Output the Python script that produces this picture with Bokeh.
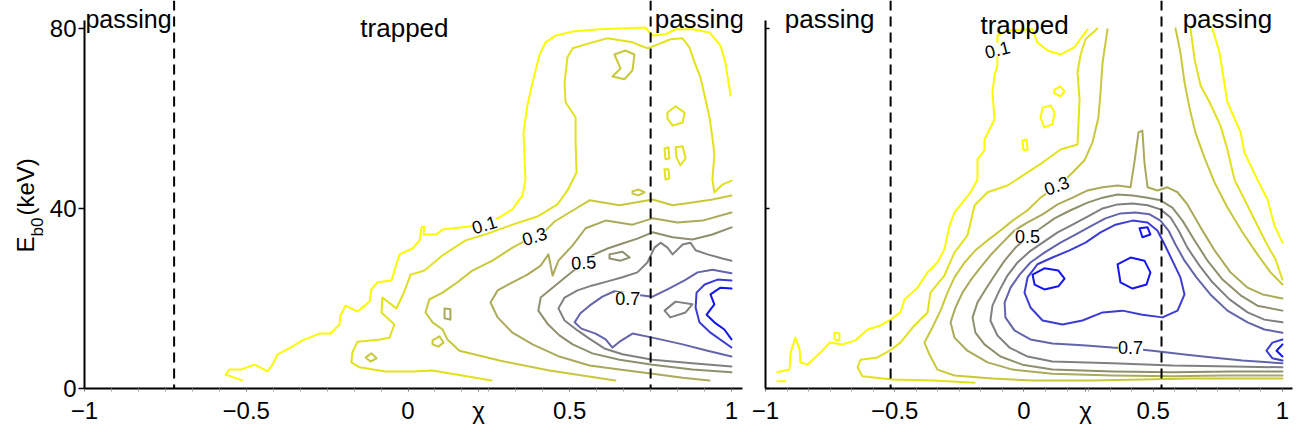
from bokeh.plotting import figure
from bokeh.models import Span, Label, FixedTicker, CustomJSTickFormatter, Range1d
from bokeh.layouts import row
from bokeh.embed import file_html
from bokeh.resources import INLINE

# ---------------- common ----------------
LEVELS = [0.1, 0.2, 0.3, 0.4, 0.5, 0.6, 0.7, 0.8, 0.9]
LEVEL_COLORS = ["#fafa00", "#e1e11e", "#c8c83c", "#aaaa5a", "#8f8f6e",
                "#808080", "#6464aa", "#3c3cd2", "#1414f0"]
X_TICKS = [-1, -0.5, 0, 0.5, 1]
Y_TICKS = [0, 40, 80]
Y_TOP = 86.2
Y_AXIS_END = 81.8
FONT = "Liberation Sans"
X_TITLE = "\u03c7"
Y_TITLE_PARTS = ["E", "b0", "(keV)"]

# ---------------- left panel ----------------
left_boundaries = [-0.723, 0.750]
left_x_title_pos = 0.218

left_01_chi = [-0.512, -0.564, -0.552, -0.518, -0.474, -0.434, -0.419, -0.403, -0.363, -0.326, -0.274, -0.240, -0.212,
               -0.209, -0.193, -0.156, -0.119, -0.113, -0.094, -0.051, -0.039, -0.026, 0.014, 0.036, 0.042, 0.051,
               0.048, 0.088, 0.107, 0.190, 0.236, 0.283, 0.323, 0.354, 0.363, 0.357, 0.369, 0.385, 0.406, 0.425,
               0.456, 0.509, 0.592, 0.734, 0.756, 0.796, 0.827, 0.879, 0.932, 0.966, 0.981, 0.997]
left_01_E = [1.8, 3.1, 4.2, 4.2, 5.3, 3.8, 5.3, 7.6, 9.1, 10.7, 12.2, 12.2, 14.2, 16.2, 18.4, 17.1, 19.3, 22.0, 23.6,
             24.0, 26.9, 29.8, 31.1, 32.9, 35.8, 36.0, 34.2, 34.2, 35.3, 36.0, 36.9, 38.0, 39.8, 42.9, 46.4, 56.9,
             62.9, 68.0, 74.0, 76.9, 78.4, 79.3, 79.8, 80.2, 78.4, 78.7, 79.8, 79.8, 79.1, 76.2, 72.4, 65.1]

left_02_chi = [0.258, 0.168, 0.076, 0.014, -0.070, -0.150, -0.175, -0.172, -0.156, -0.085, -0.057, -0.042, -0.082,
               -0.079, -0.036, -0.014, 0.008, 0.051, 0.107, 0.178, 0.246, 0.323, 0.400, 0.462, 0.493, 0.521, 0.518,
               0.518, 0.487, 0.484, 0.493, 0.509, 0.570, 0.617, 0.694, 0.740, 0.771, 0.811, 0.849, 0.870, 0.886,
               0.904, 0.917, 0.932, 0.941, 0.947, 0.941, 0.947, 0.972, 1.000]
left_02_E = [1.8, 2.9, 4.0, 3.8, 3.8, 4.7, 5.8, 8.0, 10.4, 10.9, 11.3, 14.2, 16.9, 20.2, 17.8, 21.1, 25.3, 26.2, 29.6,
             32.9, 34.4, 36.4, 38.2, 40.9, 44.0, 48.0, 54.7, 60.2, 63.6, 68.0, 73.6, 75.6, 76.9, 77.8, 76.9, 75.6,
             76.4, 77.6, 77.8, 75.8, 72.4, 69.1, 65.1, 60.2, 55.8, 52.0, 46.4, 43.6, 45.3, 46.2]

left_03_chi = [0.641, 0.539, 0.437, 0.283, 0.159, 0.122, 0.107, 0.076, 0.054, 0.066, 0.107, 0.153, 0.199, 0.261,
               0.323, 0.369, 0.416, 0.453, 0.499, 0.561, 0.654, 0.703, 0.756, 0.818, 0.879, 0.941, 1.000]
left_03_E = [1.8, 2.9, 4.0, 6.2, 8.4, 10.9, 13.1, 14.7, 16.9, 19.8, 21.3, 23.6, 26.2, 28.4, 31.3, 33.1, 34.4, 37.1,
             39.1, 41.8, 40.7, 41.3, 42.0, 40.7, 41.3, 42.0, 42.9]

left_04_chi = [0.932, 0.849, 0.756, 0.654, 0.561, 0.468, 0.385, 0.323, 0.277, 0.255, 0.277, 0.323, 0.369, 0.410,
               0.434, 0.447, 0.465, 0.509, 0.549, 0.611, 0.694, 0.756, 0.833, 0.910, 1.000]
left_04_E = [1.8, 2.4, 3.3, 4.2, 5.1, 7.1, 9.8, 12.4, 15.8, 19.1, 21.8, 23.6, 25.3, 27.3, 29.8, 25.1, 28.4, 31.8,
             35.6, 37.3, 36.4, 37.8, 36.9, 37.3, 39.1]

left_05_chi = [1.000, 0.879, 0.756, 0.654, 0.570, 0.509, 0.468, 0.431, 0.403, 0.410, 0.447, 0.493, 0.524, 0.543,
               0.570, 0.617, 0.663, 0.709, 0.756, 0.818, 0.879, 0.941, 1.000]
left_05_E = [3.6, 4.2, 5.3, 6.4, 7.8, 9.8, 11.8, 14.4, 17.3, 20.2, 22.4, 25.1, 26.9, 28.0, 29.6, 31.1, 32.2, 33.3,
             34.7, 33.6, 33.1, 34.2, 35.8]

left_06_chi = [1.000, 0.879, 0.756, 0.663, 0.607, 0.564, 0.524, 0.484, 0.465, 0.484, 0.524, 0.570, 0.617, 0.663,
               0.709, 0.740, 0.762, 0.781, 0.802, 0.818, 0.849, 0.873, 0.889, 0.926, 0.972, 1.000]
left_06_E = [4.9, 5.6, 6.4, 7.6, 8.9, 10.9, 12.9, 15.1, 17.8, 20.2, 21.8, 22.9, 23.8, 24.7, 25.8, 28.0, 31.3, 32.4,
             31.3, 29.8, 32.0, 32.4, 30.7, 29.8, 28.9, 28.4]

left_07_chi = [1.000, 0.941, 0.895, 0.855, 0.802, 0.756, 0.719, 0.679, 0.638, 0.601, 0.561, 0.533, 0.515, 0.536,
               0.580, 0.611, 0.632, 0.654, 0.694, 0.756, 0.849, 0.926, 1.000]
left_07_E = [25.6, 26.4, 25.8, 24.0, 22.0, 20.4, 20.7, 21.1, 21.6, 20.4, 18.4, 16.7, 14.7, 13.3, 12.2, 10.9, 9.1,
             10.4, 12.2, 11.3, 9.8, 8.4, 7.1]

left_08_chi = [1.000, 0.957, 0.917, 0.892, 0.889, 0.901, 0.935, 1.000]
left_08_E = [24.0, 24.2, 23.1, 21.3, 18.0, 14.7, 12.4, 9.1]

left_09_chi = [1.000, 0.966, 0.935, 0.947, 0.923, 0.947, 0.978, 1.000]
left_09_E = [22.2, 22.4, 20.9, 18.7, 16.4, 14.7, 13.1, 10.9]

# small closed islands (left)
left_isl_tower_chi = [0.638, 0.672, 0.700, 0.694, 0.669, 0.632, 0.657, 0.638]
left_isl_tower_E = [74.2, 75.1, 74.2, 70.7, 68.7, 69.3, 71.1, 74.2]
left_hole_a_chi = [0.802, 0.827, 0.855, 0.849, 0.818, 0.802, 0.802]
left_hole_a_E = [61.3, 62.7, 61.3, 59.1, 58.4, 60.0, 61.3]
left_hole_b_chi = [0.827, 0.849, 0.858, 0.842, 0.830, 0.827]
left_hole_b_E = [53.6, 53.8, 51.1, 49.6, 51.3, 53.6]
left_hole_c_chi = [0.793, 0.805, 0.808, 0.796, 0.793]
left_hole_c_E = [53.3, 53.6, 51.1, 50.9, 53.3]
left_hole_d_chi = [0.793, 0.805, 0.808, 0.796, 0.793]
left_hole_d_E = [48.7, 48.7, 46.7, 46.4, 48.7]
left_isl_e_chi = [0.694, 0.713, 0.731, 0.713, 0.694, 0.694]
left_isl_e_E = [43.8, 44.2, 43.6, 42.9, 43.3, 43.8]
left_isl_f_chi = [0.113, 0.131, 0.131, 0.113, 0.113]
left_isl_f_E = [17.8, 17.6, 15.3, 15.6, 17.8]
left_isl_g_chi = [-0.131, -0.113, -0.097, -0.116, -0.131]
left_isl_g_E = [6.9, 7.8, 6.7, 6.0, 6.9]
left_isl_h_chi = [0.076, 0.097, 0.110, 0.094, 0.076, 0.076]
left_isl_h_E = [10.7, 11.6, 10.2, 9.3, 9.8, 10.7]
left_isl_i_chi = [0.623, 0.663, 0.685, 0.657, 0.623, 0.623]
left_isl_i_E = [29.8, 30.4, 29.1, 28.4, 28.9, 29.8]
left_isl_j_chi = [0.793, 0.827, 0.879, 0.858, 0.811, 0.793]
left_isl_j_E = [17.3, 19.3, 18.7, 16.9, 15.8, 17.3]

left_clabel_text = ["0.1", "0.3", "0.5", "0.7"]
left_clabel_chi = [0.236, 0.391, 0.543, 0.679]
left_clabel_E = [36.4, 33.8, 28.0, 20.0]
left_clabel_angle = [0.30, 0.30, 0.05, 0.0]

left_region_text = ["passing", "trapped", "passing"]
left_region_chi = [-0.997, -0.011, 0.901]
left_region_E = [82.2, 80.0, 82.2]
left_region_align = ["left", "center", "center"]
left_region_size = ["25px", "26px", "26px"]

# ---------------- right panel ----------------
right_boundaries = [-0.516, 0.532]
right_x_title_pos = 0.238

right_01a_chi = [-0.954, -0.907, -0.903, -0.884, -0.868, -0.865, -0.838, -0.780, -0.752, -0.702, -0.652, -0.605,
                 -0.555, -0.516, -0.478, -0.462, -0.412, -0.373, -0.335, -0.308, -0.288, -0.269, -0.207, -0.180,
                 -0.180, -0.153, -0.153, -0.114, -0.122, -0.114, -0.103, -0.103, -0.064, 0.033, 0.052, 0.091, 0.141,
                 0.195, 0.246]
right_01a_E = [3.6, 4.2, 8.0, 11.3, 8.7, 5.8, 5.3, 8.4, 10.2, 9.8, 10.7, 13.1, 14.0, 15.3, 16.9, 19.8, 22.4, 25.8,
               28.0, 30.9, 36.2, 39.1, 43.6, 46.4, 50.9, 52.9, 55.3, 59.8, 65.8, 69.6, 71.8, 78.4, 79.6, 79.8, 76.9,
               75.1, 74.2, 75.8, 79.8]
right_01b_chi = [0.729, 0.756, 0.787, 0.838, 0.853, 0.903, 0.942, 0.969, 1.000]
right_01b_E = [80.0, 74.7, 63.6, 56.9, 52.4, 46.4, 42.0, 36.2, 32.4]
right_01c_chi = [-0.954, -0.923]
right_01c_E = [1.6, 1.6]

right_02a_chi = [-0.191, -0.346, -0.509, -0.625, -0.644, -0.632, -0.567, -0.520, -0.478, -0.424, -0.373, -0.362,
                 -0.308, -0.269, -0.219, -0.191, -0.141, -0.064, 0.014, 0.072, 0.141, 0.207, 0.215, 0.207, 0.219,
                 0.238, 0.284]
right_02a_E = [1.3, 1.8, 2.0, 2.7, 4.7, 6.4, 6.9, 8.4, 10.2, 14.0, 16.9, 21.3, 25.1, 30.2, 34.0, 40.7, 43.6, 45.1,
               48.0, 50.2, 53.1, 54.2, 64.2, 70.2, 74.2, 77.6, 80.0]
right_02b_chi = [0.644, 0.660, 0.683, 0.718, 0.760, 0.787, 0.814, 0.853, 0.903, 0.942, 0.973, 1.000]
right_02b_E = [80.0, 73.1, 67.3, 63.6, 58.4, 53.1, 46.4, 42.0, 36.2, 31.8, 28.7, 24.2]

right_03a_chi = [1.000, 0.652, 0.458, 0.265, 0.033, -0.122, -0.269, -0.335, -0.366, -0.385, -0.354, -0.323, -0.296,
                 -0.269, -0.230, -0.188, -0.141, -0.091, -0.044, 0.014, 0.064, 0.103, 0.149, 0.188, 0.234, 0.265,
                 0.288, 0.296, 0.304, 0.323]
right_03a_E = [2.2, 2.2, 2.0, 1.8, 1.8, 2.2, 2.9, 4.2, 7.6, 10.2, 13.6, 17.3, 21.3, 24.7, 28.0, 30.7, 32.9, 35.1,
               37.3, 39.6, 42.4, 44.0, 45.8, 48.0, 50.7, 54.7, 60.2, 65.8, 72.4, 79.8]
right_03b_chi = [0.586, 0.605, 0.621, 0.640, 0.663, 0.698, 0.737, 0.787, 0.845, 0.903, 0.954, 1.000]
right_03b_E = [80.0, 74.7, 68.0, 62.4, 56.9, 51.3, 45.8, 40.2, 34.7, 29.8, 25.8, 23.1]

right_04_chi = [1.000, 0.768, 0.574, 0.342, 0.110, -0.044, -0.141, -0.219, -0.269, -0.284, -0.265, -0.238, -0.207,
                -0.168, -0.130, -0.083, -0.037, 0.014, 0.072, 0.130, 0.188, 0.246, 0.304, 0.362, 0.412, 0.427, 0.443,
                0.458, 0.466, 0.478, 0.516, 0.555, 0.594, 0.632, 0.683, 0.737, 0.799, 0.865, 0.923, 1.000]
right_04_E = [2.9, 2.9, 2.7, 2.9, 3.3, 4.2, 5.8, 8.4, 11.3, 14.7, 18.0, 21.3, 24.0, 26.9, 29.6, 32.4, 35.1, 36.9,
              38.7, 40.9, 42.4, 44.0, 44.7, 45.1, 44.7, 50.2, 56.9, 57.3, 50.2, 44.7, 44.0, 44.7, 43.6, 40.9, 35.8,
              30.7, 25.8, 22.4, 20.9, 20.0]

right_05_chi = [1.000, 0.807, 0.574, 0.342, 0.110, -0.006, -0.091, -0.153, -0.188, -0.199, -0.180, -0.149, -0.114,
                -0.075, -0.033, 0.014, 0.064, 0.118, 0.180, 0.246, 0.304, 0.362, 0.420, 0.478, 0.528, 0.574, 0.613,
                0.660, 0.710, 0.768, 0.838, 0.903, 1.000]
right_05_E = [3.8, 3.8, 3.6, 3.8, 4.2, 5.3, 7.1, 9.8, 12.4, 15.8, 19.1, 22.0, 25.1, 28.4, 31.3, 33.6, 35.6, 37.8,
              39.6, 41.3, 42.4, 43.1, 42.9, 42.4, 41.8, 40.2, 37.3, 32.9, 28.4, 24.2, 20.7, 18.4, 17.3]

right_06_chi = [1.000, 0.807, 0.574, 0.342, 0.110, 0.014, -0.056, -0.103, -0.130, -0.122, -0.095, -0.064, -0.025,
                0.021, 0.072, 0.130, 0.188, 0.246, 0.304, 0.362, 0.420, 0.478, 0.528, 0.567, 0.598, 0.632, 0.679,
                0.729, 0.795, 0.865, 0.930, 1.000]
right_06_E = [4.7, 4.9, 5.1, 5.6, 6.0, 7.1, 9.1, 11.8, 15.1, 18.4, 21.8, 25.1, 28.0, 30.4, 32.4, 34.7, 36.4, 38.2,
              40.0, 40.9, 41.1, 40.7, 39.8, 38.0, 35.1, 31.3, 27.3, 23.6, 19.8, 16.9, 15.3, 14.7]

right_07_chi = [1.000, 0.845, 0.729, 0.613, 0.497, 0.412, 0.342, 0.226, 0.110, 0.025, -0.037, -0.072, -0.075, -0.052,
                -0.017, 0.025, 0.079, 0.141, 0.199, 0.257, 0.315, 0.373, 0.431, 0.486, 0.528, 0.559, 0.586, 0.621,
                0.667, 0.721, 0.787, 0.865, 0.930, 1.000]
right_07_E = [5.6, 6.2, 6.9, 7.6, 8.4, 8.9, 9.1, 9.6, 10.0, 10.9, 12.9, 15.8, 19.1, 22.4, 25.3, 28.0, 30.2, 32.4,
              34.2, 36.0, 37.8, 38.9, 39.1, 38.7, 37.3, 35.1, 32.0, 28.4, 24.7, 20.9, 17.3, 14.7, 13.1, 12.4]

right_08a_chi = [0.014, 0.052, 0.110, 0.176, 0.238, 0.296, 0.354, 0.420, 0.478, 0.516, 0.544, 0.574, 0.605, 0.621,
                 0.594, 0.536, 0.458, 0.381, 0.304, 0.226, 0.149, 0.072, 0.025, 0.002, 0.014]
right_08a_E = [24.7, 27.6, 29.1, 30.7, 32.4, 34.7, 36.4, 37.3, 36.9, 35.1, 32.0, 28.4, 24.7, 20.9, 17.3, 15.8, 16.4,
               17.3, 16.9, 15.1, 14.2, 15.1, 18.0, 21.3, 24.7]
right_08b_chi = [1.000, 0.961, 0.938, 0.961, 1.000]
right_08b_E = [10.9, 10.2, 8.4, 6.7, 6.2]

right_09a_chi = [0.033, 0.079, 0.133, 0.157, 0.133, 0.079, 0.041, 0.033]
right_09a_E = [25.3, 26.7, 26.2, 24.4, 22.7, 22.0, 23.1, 25.3]
right_09b_chi = [0.362, 0.412, 0.466, 0.489, 0.474, 0.420, 0.373, 0.362]
right_09b_E = [27.6, 29.1, 28.4, 25.8, 23.1, 22.2, 23.6, 27.6]
right_09c_chi = [0.447, 0.478, 0.489, 0.458, 0.447]
right_09c_E = [35.6, 35.8, 34.2, 33.6, 35.6]
right_09d_chi = [1.000, 0.977, 1.000]
right_09d_E = [9.8, 8.4, 7.1]

# small yellow islands (right)
right_hole_a_chi = [0.118, 0.141, 0.157, 0.141, 0.118, 0.118]
right_hole_a_E = [66.4, 67.1, 66.0, 64.9, 65.6, 66.4]
right_hole_b_chi = [0.072, 0.103, 0.118, 0.110, 0.079, 0.064, 0.072]
right_hole_b_E = [62.4, 62.9, 61.3, 58.7, 58.0, 60.2, 62.4]
right_hole_c_chi = [-0.006, 0.010, 0.014, -0.002, -0.006]
right_hole_c_E = [55.1, 55.3, 53.1, 52.9, 55.1]
right_hole_d_chi = [-0.733, -0.714, -0.714, -0.733, -0.733]
right_hole_d_E = [12.4, 12.2, 10.7, 10.9, 12.4]

right_clabel_text = ["0.1", "0.3", "0.5", "0.7"]
right_clabel_chi = [-0.103, 0.126, 0.014, 0.412]
right_clabel_E = [75.3, 45.1, 33.8, 9.1]
right_clabel_angle = [0.25, 0.35, 0.0, 0.0]

right_region_text = ["passing", "trapped", "passing"]
right_region_chi = [-0.752, 0.002, 0.787]
right_region_E = [82.2, 80.7, 82.2]
right_region_align = ["center", "center", "center"]
right_region_size = ["26px", "26px", "26px"]

# ---------------- assemble ----------------
LEFT_LINES = {
    0.1: [(left_01_chi, left_01_E)],
    0.2: [(left_02_chi, left_02_E), (left_hole_a_chi, left_hole_a_E), (left_hole_b_chi, left_hole_b_E),
          (left_hole_c_chi, left_hole_c_E), (left_hole_d_chi, left_hole_d_E)],
    0.3: [(left_03_chi, left_03_E), (left_isl_tower_chi, left_isl_tower_E), (left_isl_e_chi, left_isl_e_E),
          (left_isl_g_chi, left_isl_g_E), (left_isl_h_chi, left_isl_h_E)],
    0.4: [(left_04_chi, left_04_E), (left_isl_f_chi, left_isl_f_E)],
    0.5: [(left_05_chi, left_05_E), (left_isl_i_chi, left_isl_i_E)],
    0.6: [(left_06_chi, left_06_E), (left_isl_j_chi, left_isl_j_E)],
    0.7: [(left_07_chi, left_07_E)],
    0.8: [(left_08_chi, left_08_E)],
    0.9: [(left_09_chi, left_09_E)],
}
RIGHT_LINES = {
    0.1: [(right_01a_chi, right_01a_E), (right_01b_chi, right_01b_E), (right_01c_chi, right_01c_E),
          (right_hole_a_chi, right_hole_a_E), (right_hole_b_chi, right_hole_b_E),
          (right_hole_c_chi, right_hole_c_E), (right_hole_d_chi, right_hole_d_E)],
    0.2: [(right_02a_chi, right_02a_E), (right_02b_chi, right_02b_E)],
    0.3: [(right_03a_chi, right_03a_E), (right_03b_chi, right_03b_E)],
    0.4: [(right_04_chi, right_04_E)],
    0.5: [(right_05_chi, right_05_E)],
    0.6: [(right_06_chi, right_06_E)],
    0.7: [(right_07_chi, right_07_E)],
    0.8: [(right_08a_chi, right_08a_E), (right_08b_chi, right_08b_E)],
    0.9: [(right_09a_chi, right_09a_E), (right_09b_chi, right_09b_E), (right_09c_chi, right_09c_E),
          (right_09d_chi, right_09d_E)],
}

X_MINOR = [round(-1 + k / 12.0, 4) for k in range(25) if k % 6 != 0]
X_FMT = ("if (Math.abs(tick - title_pos) < 1e-9) { return title; }"
         " return tick < 0 ? '\u2212' + (-tick) : '' + tick;")

CANVAS_H = 424
FRAME_H = 388
BOTTOM = CANVAS_H - FRAME_H


def make_panel(x_end, frame_w, border_left, border_right, lines, bounds,
               cl_text, cl_chi, cl_E, cl_angle, rg_text, rg_chi, rg_E, rg_align, rg_size,
               x_title_pos, left_panel):
    p = figure(output_backend="svg", toolbar_location=None, title=None,
               x_range=Range1d(-1, x_end), y_range=Range1d(0, Y_TOP),
               frame_width=frame_w, frame_height=FRAME_H,
               min_border_left=border_left, min_border_right=border_right,
               min_border_top=0, min_border_bottom=BOTTOM)
    p.background_fill_color = "white"
    p.border_fill_color = "white"
    p.outline_line_color = None
    p.xgrid.visible = False
    p.ygrid.visible = False

    xa = p.xaxis[0]
    xa.ticker = FixedTicker(ticks=X_TICKS + [x_title_pos], minor_ticks=X_MINOR)
    xa.formatter = CustomJSTickFormatter(args=dict(title=X_TITLE, title_pos=x_title_pos), code=X_FMT)
    xa.axis_line_width = 2
    xa.axis_line_color = "black"
    xa.major_tick_out = 3
    xa.major_tick_in = 0
    xa.major_tick_line_width = 1
    xa.major_tick_line_color = "#777777"
    xa.minor_tick_out = 3
    xa.minor_tick_in = 0
    xa.minor_tick_line_color = "#999999"
    xa.major_label_standoff = 5
    xa.major_label_text_font = FONT
    xa.major_label_text_font_size = "24px"
    xa.major_label_text_color = "black"

    ya = p.yaxis[0]
    ya.ticker = FixedTicker(ticks=Y_TICKS, minor_ticks=[])
    ya.bounds = (0, Y_AXIS_END)
    ya.axis_line_width = 2
    ya.axis_line_color = "black"
    ya.major_tick_line_width = 1.5
    ya.minor_tick_out = 0
    ya.minor_tick_in = 0
    ya.major_label_text_font = FONT
    ya.major_label_text_font_size = "24px"
    ya.major_label_text_color = "black"
    if left_panel:
        ya.major_tick_out = 6
        ya.major_tick_in = 0
        ya.major_label_standoff = 2
    else:
        ya.major_tick_out = 0
        ya.major_tick_in = 4
        ya.major_label_standoff = 0
        ya.formatter = CustomJSTickFormatter(code="return '';")

    for i, lev in enumerate(LEVELS):
        pieces = lines.get(lev, [])
        if not pieces:
            continue
        p.multi_line(xs=[pc[0] for pc in pieces], ys=[pc[1] for pc in pieces],
                     line_color=LEVEL_COLORS[i], line_width=2, line_join="round", line_cap="round")

    for b in bounds:
        p.add_layout(Span(location=b, dimension="height", line_color="black",
                          line_width=2, line_dash="10 6"))

    for t, cx, ce, ang in zip(cl_text, cl_chi, cl_E, cl_angle):
        p.add_layout(Label(x=cx, y=ce, text=t, angle=ang, text_font=FONT, text_font_size="18px",
                           text_align="center", text_baseline="middle", text_color="black",
                           background_fill_color="white", background_fill_alpha=1.0))

    for t, cx, ce, al, sz in zip(rg_text, rg_chi, rg_E, rg_align, rg_size):
        p.add_layout(Label(x=cx, y=ce, text=t, text_font=FONT, text_font_size=sz,
                           text_align=al, text_baseline="alphabetic", text_color="black"))
    return p


# strip that carries the rotated y-axis title (E with subscript b0, then (keV))
STRIP_W = 46
strip = figure(output_backend="svg", toolbar_location=None, title=None,
               width=STRIP_W, height=CANVAS_H, min_border=0,
               x_axis_location=None, y_axis_location=None,
               x_range=Range1d(0, 1), y_range=Range1d(0, 1))
strip.outline_line_color = None
strip.grid.visible = False
y_title_x = [25, 37, 25]
y_title_y = [134, 150, 171]
y_title_size = ["24px", "17px", "24px"]
for t, sx, sy, sz in zip(Y_TITLE_PARTS, y_title_x, y_title_y, y_title_size):
    strip.add_layout(Label(x=sx, y=sy, x_units="screen", y_units="screen", text=t, angle=1.5708,
                           text_font=FONT, text_font_size=sz, text_align="left",
                           text_baseline="alphabetic", text_color="black"))

p_left = make_panel(1.034, 658, 84 - STRIP_W, 5, LEFT_LINES, left_boundaries,
                    left_clabel_text, left_clabel_chi, left_clabel_E, left_clabel_angle,
                    left_region_text, left_region_chi, left_region_E, left_region_align, left_region_size,
                    left_x_title_pos, True)
p_right = make_panel(1.0387, 527, 18, 6, RIGHT_LINES, right_boundaries,
                     right_clabel_text, right_clabel_chi, right_clabel_E, right_clabel_angle,
                     right_region_text, right_region_chi, right_region_E, right_region_align, right_region_size,
                     right_x_title_pos, False)

layout = row(strip, p_left, p_right)
open("out.html", "w").write(file_html(layout, INLINE))
